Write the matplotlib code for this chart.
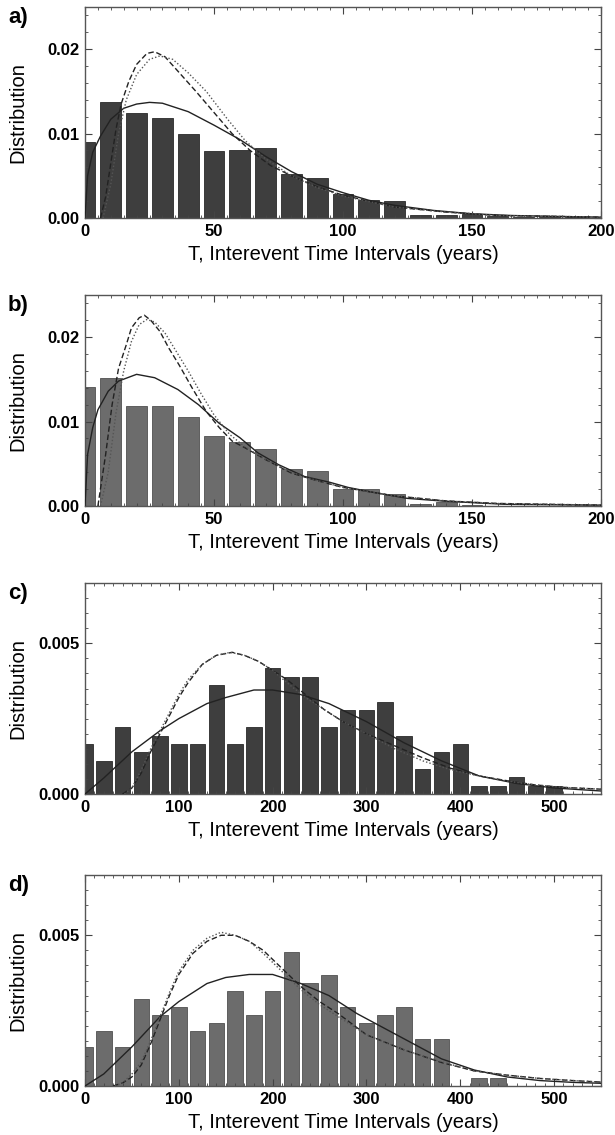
import numpy as np
import matplotlib
matplotlib.use("Agg")
import matplotlib.pyplot as plt
from matplotlib.ticker import MultipleLocator

plt.rcParams['font.family'] = ['Liberation Sans', 'DejaVu Sans']

# ---- panel a ----
a_bins = [0, 10, 20, 30, 40, 50, 60, 70, 80, 90, 100, 110, 120, 130, 140, 150, 160, 170, 180, 190]
a_hist = [0.0090, 0.0138, 0.0125, 0.0119, 0.0100, 0.0079, 0.0080, 0.0083, 0.0052, 0.0047,
          0.0028, 0.0021, 0.0020, 0.00035, 0.0004, 0.00045, 0.0002, 0.0001, 0.0001, 0.0001]
a_solid_x = [0, 1, 3, 6, 10, 15, 20, 25, 30, 40, 50, 60, 70, 80, 90, 100, 110, 120, 135, 150, 165, 180, 200]
a_solid_y = [0, 0.0050, 0.0078, 0.0097, 0.0117, 0.0130, 0.0135, 0.0137, 0.0136, 0.0126, 0.0110, 0.0093,
             0.0073, 0.0055, 0.0040, 0.0030, 0.0021, 0.0015, 0.0009, 0.0005, 0.0003, 0.0002, 0.0001]
a_dash_x = [6, 8, 10, 12, 14, 17, 20, 24, 27, 31, 36, 43, 50, 57, 64, 72, 80, 90, 100, 120, 140, 160, 200]
a_dash_y = [0, 0.0025, 0.0065, 0.0105, 0.0135, 0.0162, 0.0182, 0.0195, 0.0197, 0.0191, 0.0174, 0.0150,
            0.0125, 0.0100, 0.0080, 0.0062, 0.0050, 0.0037, 0.0027, 0.0013, 0.0007, 0.0003, 0.0001]
a_dot_x = [7, 10, 13, 16, 20, 25, 29, 34, 40, 47, 55, 62, 70, 80, 90, 100, 120, 140, 160, 200]
a_dot_y = [0, 0.0040, 0.0100, 0.0140, 0.0170, 0.0188, 0.0192, 0.0188, 0.0172, 0.0150, 0.0118, 0.0092,
           0.0070, 0.0050, 0.0036, 0.0026, 0.0013, 0.0007, 0.0003, 0.0001]

# ---- panel b ----
b_bins = [0, 10, 20, 30, 40, 50, 60, 70, 80, 90, 100, 110, 120, 130, 140, 150]
b_hist = [0.0141, 0.0152, 0.0119, 0.0118, 0.0105, 0.0083, 0.0076, 0.0067, 0.0044, 0.0042,
          0.0020, 0.0020, 0.0014, 0.0002, 0.0005, 0.0001]
b_solid_x = [0, 1, 3, 5, 9, 13, 20, 27, 36, 44, 52, 60, 67, 75, 85, 95, 102, 112, 125, 138, 150, 163, 200]
b_solid_y = [0, 0.0061, 0.0093, 0.0114, 0.0136, 0.0148, 0.0156, 0.0152, 0.0138, 0.0120, 0.0098, 0.0081,
             0.0063, 0.0049, 0.0035, 0.0028, 0.0022, 0.0016, 0.0009, 0.0006, 0.0004, 0.0002, 0.0001]
b_dash_x = [5, 8, 10.5, 13, 16, 18, 21, 23, 25.5, 29, 32.5, 36.5, 41.5, 47, 52, 57, 62, 70, 80, 90, 100,
            120, 140, 160, 200]
b_dash_y = [0, 0.0061, 0.0120, 0.0163, 0.0191, 0.0211, 0.0223, 0.0226, 0.0220, 0.0207, 0.0187, 0.0167,
            0.0140, 0.0112, 0.0093, 0.0077, 0.0069, 0.0055, 0.0039, 0.0030, 0.0022, 0.0012, 0.0006,
            0.0003, 0.0001]
b_dot_x = [6, 9, 12, 15, 18, 21, 24, 27, 31, 35, 40, 45, 50, 56, 62, 70, 80, 90, 100, 120, 140, 160, 200]
b_dot_y = [0, 0.0040, 0.0110, 0.0160, 0.0195, 0.0215, 0.0221, 0.0218, 0.0205, 0.0185, 0.0160, 0.0133,
           0.0108, 0.0085, 0.0070, 0.0055, 0.0040, 0.0030, 0.0022, 0.0012, 0.0006, 0.0003, 0.0001]

# ---- panel c ----
c_bins = [0, 20, 40, 60, 80, 100, 120, 140, 160, 180, 200, 220, 240, 260, 280, 300, 320, 340,
          360, 380, 400, 420, 440, 460, 480, 500]
c_hist = [0.00167, 0.00111, 0.00222, 0.00139, 0.00194, 0.00167, 0.00167, 0.00361, 0.00167, 0.00222,
          0.00417, 0.00389, 0.00389, 0.00222, 0.00278, 0.00278, 0.00306, 0.00194, 0.00083, 0.00139,
          0.00167, 0.00028, 0.00028, 0.00056, 0.00028, 0.00028]
c_solid_x = [0, 20, 50, 80, 100, 130, 150, 180, 200, 230, 260, 300, 340, 380, 420, 460, 500, 550]
c_solid_y = [0, 0.00053, 0.0014, 0.0021, 0.0025, 0.0030, 0.0032, 0.00345, 0.00345, 0.0033, 0.0030,
             0.0024, 0.0017, 0.0011, 0.0006, 0.00035, 0.0002, 0.0001]
c_dash_x = [40, 50, 60, 70, 80, 90, 100, 110, 125, 140, 157, 170, 185, 200, 215, 235, 255, 275, 300,
            330, 360, 390, 420, 450, 480, 510, 550]
c_dash_y = [0, 0.0002, 0.0007, 0.0014, 0.0020, 0.0026, 0.0032, 0.0037, 0.0043, 0.0046, 0.0047, 0.0046,
            0.0044, 0.0041, 0.0038, 0.0033, 0.0028, 0.0024, 0.0020, 0.0016, 0.0012, 0.00085, 0.0006,
            0.00044, 0.0003, 0.00022, 0.00016]
c_dot_x = [42, 50, 60, 70, 80, 90, 100, 110, 125, 140, 155, 170, 185, 200, 215, 235, 255, 275, 300,
           330, 360, 390, 420, 450, 480, 510, 550]
c_dot_y = [0, 0.0002, 0.0008, 0.0015, 0.0021, 0.0027, 0.0033, 0.0038, 0.0043, 0.0046, 0.0047, 0.0046,
           0.0044, 0.0041, 0.0037, 0.0032, 0.0028, 0.0024, 0.0020, 0.0015, 0.0011, 0.0008, 0.0006,
           0.00043, 0.0003, 0.00022, 0.00016]

# ---- panel d ----
d_bins = [0, 20, 40, 60, 80, 100, 120, 140, 160, 180, 200, 220, 240, 260, 280, 300, 320, 340,
          360, 380, 400, 420, 440]
d_hist = [0.00131, 0.00184, 0.00131, 0.00289, 0.00236, 0.00262, 0.00184, 0.00210, 0.00315, 0.00236,
          0.00315, 0.00446, 0.00341, 0.00367, 0.00262, 0.00210, 0.00236, 0.00262, 0.00157, 0.00157,
          0, 0.00026, 0.00026]
d_solid_x = [0, 20, 50, 80, 100, 130, 150, 175, 200, 230, 260, 290, 320, 350, 380, 415, 450, 485, 520, 550]
d_solid_y = [0, 0.0004, 0.0013, 0.0023, 0.0028, 0.0034, 0.0036, 0.0037, 0.0037, 0.0034, 0.0030, 0.0024,
             0.0019, 0.0014, 0.0009, 0.00053, 0.0003, 0.00018, 0.00012, 0.00009]
d_dash_x = [30, 40, 50, 60, 70, 80, 90, 100, 115, 130, 145, 160, 175, 190, 210, 230, 250, 270, 300,
            340, 380, 415, 450, 485, 520, 550]
d_dash_y = [0, 0.0001, 0.0003, 0.0007, 0.0014, 0.0022, 0.0030, 0.0037, 0.0044, 0.0048, 0.0050, 0.0050,
            0.0048, 0.0045, 0.0039, 0.0033, 0.0028, 0.0024, 0.0017, 0.0012, 0.00078, 0.0005, 0.00036,
            0.00025, 0.00018, 0.00013]
d_dot_x = [32, 40, 50, 60, 70, 80, 90, 100, 115, 130, 145, 160, 175, 190, 210, 230, 250, 270, 300,
           340, 380, 415, 450, 485, 520, 550]
d_dot_y = [0, 0.0001, 0.0004, 0.0008, 0.0015, 0.0023, 0.0031, 0.0038, 0.0045, 0.0049, 0.0051, 0.0050,
           0.0048, 0.0044, 0.0038, 0.0032, 0.0027, 0.0023, 0.0017, 0.0012, 0.0008, 0.0005, 0.00036,
           0.00025, 0.00018, 0.00013]

W, H = 615, 1135
fig = plt.figure(figsize=(W / 100, H / 100), dpi=100)

panels = [
    ("a)", 7, a_bins, a_hist, 8, '#3e3e3e', (a_solid_x, a_solid_y), (a_dash_x, a_dash_y), (a_dot_x, a_dot_y),
     200, 0.025, 50, 5, 0.01, 0.002, "%.2f"),
    ("b)", 295, b_bins, b_hist, 8, '#6c6c6c', (b_solid_x, b_solid_y), (b_dash_x, b_dash_y), (b_dot_x, b_dot_y),
     200, 0.025, 50, 5, 0.01, 0.002, "%.2f"),
    ("c)", 583, c_bins, c_hist, 16.5, '#3e3e3e', (c_solid_x, c_solid_y), (c_dash_x, c_dash_y), (c_dot_x, c_dot_y),
     550, 0.007, 100, 10, 0.005, 0.0005, "%.3f"),
    ("d)", 875, d_bins, d_hist, 16.5, '#6c6c6c', (d_solid_x, d_solid_y), (d_dash_x, d_dash_y), (d_dot_x, d_dot_y),
     550, 0.007, 100, 10, 0.005, 0.0005, "%.3f"),
]

for lab, top, bins, hist, bw, col, sol, das, dot, xmax, ymax, xmaj, xmin_, ymaj, ymin_, fmt in panels:
    ax = fig.add_axes([85 / W, 1 - (top + 211) / H, 516 / W, 211 / H])
    ax.bar(bins, hist, width=bw, color=col, edgecolor='#2a2a2a' if col == '#3e3e3e' else '#505050',
           linewidth=0.6, zorder=1)
    ax.plot(sol[0], sol[1], color='#222222', lw=1.0, zorder=3)
    ax.plot(das[0], das[1], color='#222222', lw=1.0, dashes=(4, 2), zorder=3)
    ax.plot(dot[0], dot[1], color='#555555', lw=1.0, dashes=(1, 1.5), zorder=3)
    ax.set_xlim(0, xmax)
    ax.set_ylim(0, ymax)
    ax.xaxis.set_major_locator(MultipleLocator(xmaj))
    ax.xaxis.set_minor_locator(MultipleLocator(xmin_))
    ax.yaxis.set_major_locator(MultipleLocator(ymaj))
    ax.yaxis.set_minor_locator(MultipleLocator(ymin_))
    yt = [v for v in np.arange(0, ymax, ymaj)]
    ax.set_yticks(yt)
    ax.set_yticklabels([fmt % v for v in yt])
    ax.tick_params(which='both', direction='in', top=True, right=True, colors='#444444',
                   labelcolor='black', labelsize=12, pad=4)
    ax.tick_params(which='major', length=5, width=0.8)
    ax.tick_params(which='minor', length=2.5, width=0.6)
    for t in ax.get_xticklabels() + ax.get_yticklabels():
        t.set_fontweight('bold')
    for s in ax.spines.values():
        s.set_color('#555555')
        s.set_linewidth(1.0)
    ax.set_xlabel("T, Interevent Time Intervals (years)", fontsize=14.5, labelpad=5)
    ax.set_ylabel("Distribution", fontsize=14.5)
    ax.yaxis.set_label_coords(-0.112, 0.5)
    fig.text(8 / W, 1 - (top + 11) / H, lab, fontsize=16, fontweight='bold', ha='left', va='center')

fig.savefig("out.png", dpi=100)
